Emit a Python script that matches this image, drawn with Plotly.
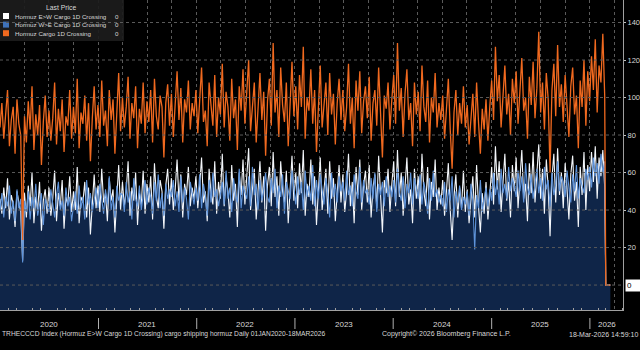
import pandas as pd
import plotly.graph_objects as go

# ---------------- data (weekly readings, then the drop to 0) ----------------
orange_vals = [
    84, 97, 78, 92, 104, 74, 88, 95, 70, 99, 86, 80, 24,
    90, 76, 98, 83, 106, 72, 91, 80, 96, 64, 87, 101, 79,
    93, 77, 89, 108, 75, 94, 82, 99, 71, 90, 85, 104, 78,
    95, 81, 110, 73, 92, 86, 101, 77, 97, 66, 89, 106, 83,
    96, 79, 109, 85, 93, 74, 104, 88, 99, 70, 91, 113, 82,
    100, 84, 95, 111, 78, 97, 89, 106, 73, 94, 86, 108, 81,
    98, 87, 104, 76, 110, 90, 83, 101, 95, 68, 97, 107, 85,
    102, 79, 96, 114, 88, 105, 76, 99, 92, 109, 83, 97, 90,
    104, 81, 98, 116, 87, 93, 74, 108, 96, 85, 112, 79, 100,
    91, 118, 84, 103, 95, 77, 110, 89, 99, 72, 106, 93, 115,
    86, 101, 120, 82, 97, 108, 76, 94, 113, 88, 103, 69, 98,
    110, 85, 129, 92, 104, 79, 116, 96, 87, 108, 74, 101, 119,
    90, 106, 83, 112, 95, 127, 78, 100, 93, 115, 86, 104, 71,
    99, 117, 84, 96, 108, 80, 113, 91, 102, 75, 97, 110, 88,
    104, 82, 95, 118, 86, 100, 73, 109, 93, 114, 81, 98, 106,
    89, 111, 77, 97, 104, 85, 116, 92, 68, 101, 94, 108, 83,
    99, 112, 86, 129, 93, 105, 79, 102, 115, 88, 97, 74, 108,
    91, 103, 82, 117, 95, 87, 109, 76, 100, 92, 113, 84, 97,
    88, 101, 78, 95, 110, 83, 62, 92, 104, 80, 97, 86, 106,
    84, 96, 75, 90, 102, 79, 108, 87, 70, 94, 83, 99, 77,
    95, 109, 88, 127, 98, 112, 84, 104, 117, 91, 102, 80, 110,
    97, 114, 86, 106, 121, 93, 100, 78, 111, 96, 119, 89, 105,
    135, 92, 108, 83, 113, 99, 60, 104, 118, 90, 128, 95, 107,
    87, 112, 98, 79, 106, 116, 91, 101, 73, 109, 95, 120, 85,
    114, 98, 122, 104, 131, 92, 117, 108, 134, 101,
    0, 0,
]

white_vals = [
    46, 38, 52, 41, 57, 35, 48, 43, 31, 50, 44, 39, 13,
    49, 36, 53, 42, 60, 33, 47, 40, 55, 29, 45, 51, 38,
    52, 37, 46, 61, 34, 49, 42, 56, 30, 47, 43, 58, 39,
    50, 40, 63, 33, 47, 44, 55, 36, 52, 27, 46, 59, 41,
    53, 39, 62, 44, 49, 34, 57, 45, 51, 28, 48, 64, 40,
    55, 42, 50, 66, 37, 52, 45, 60, 32, 49, 43, 61, 38,
    54, 44, 58, 35, 65, 47, 41, 56, 50, 30, 53, 62, 43,
    57, 40, 51, 67, 45, 59, 36, 54, 48, 63, 42, 52, 46,
    58, 41, 53, 68, 44, 50, 34, 62, 49, 43, 66, 38, 55,
    46, 70, 42, 57, 50, 36, 64, 45, 54, 31, 60, 48, 67,
    43, 56, 73, 40, 52, 62, 35, 49, 66, 44, 58, 29, 53,
    63, 42, 71, 47, 58, 37, 66, 50, 44, 61, 33, 55, 69,
    45, 60, 41, 65, 49, 72, 37, 54, 47, 67, 43, 58, 32,
    53, 68, 40, 51, 62, 38, 66, 46, 57, 34, 52, 64, 44,
    59, 39, 50, 70, 42, 55, 33, 63, 48, 67, 40, 53, 61,
    44, 64, 36, 52, 59, 41, 69, 47, 28, 56, 49, 62, 39,
    54, 66, 42, 72, 47, 60, 37, 56, 68, 43, 51, 33, 62,
    46, 58, 39, 70, 50, 42, 63, 35, 55, 47, 67, 40, 52,
    43, 56, 37, 50, 65, 40, 24, 47, 59, 36, 52, 41, 61,
    39, 51, 33, 46, 58, 36, 64, 42, 28, 49, 38, 55, 35,
    48, 63, 43, 74, 51, 66, 39, 57, 70, 45, 55, 36, 64,
    50, 68, 41, 59, 72, 46, 54, 34, 65, 49, 71, 44, 58,
    75, 46, 62, 38, 67, 52, 26, 57, 70, 44, 73, 48, 60,
    41, 65, 51, 35, 59, 69, 45, 55, 31, 63, 48, 71, 40,
    64, 50, 71, 55, 74, 46, 68, 58, 72, 52,
    0, 0,
]

blue_vals = [
    40, 49, 36, 47, 42, 53, 38, 45, 34, 51, 41, 46, 12,
    45, 39, 50, 35, 47, 41, 54, 37, 44, 49, 32, 46, 42,
    39, 51, 43, 36, 48, 55, 40, 45, 37, 52, 42, 47, 34,
    44, 50, 38, 53, 41, 47, 35, 56, 43, 49, 39, 45, 52,
    41, 54, 46, 38, 51, 43, 58, 40, 47, 36, 53, 45, 49,
    48, 39, 55, 44, 50, 35, 57, 46, 42, 53, 40, 48, 56,
    43, 52, 47, 38, 55, 45, 59, 41, 49, 37, 54, 46, 51,
    47, 56, 42, 50, 39, 58, 44, 52, 46, 35, 55, 49, 43,
    52, 45, 59, 41, 54, 48, 37, 56, 44, 60, 47, 51, 42,
    49, 55, 43, 61, 46, 52, 39, 57, 48, 44, 62, 41, 53,
    50, 46, 58, 42, 63, 48, 54, 40, 56, 45, 51, 60, 47,
    44, 57, 49, 62, 41, 53, 47, 59, 38, 55, 50, 46, 61,
    52, 43, 58, 48, 55, 40, 61, 47, 53, 45, 64, 42, 56,
    46, 59, 51, 43, 57, 49, 36, 60, 47, 54, 44, 58, 50,
    55, 45, 61, 48, 53, 42, 59, 50, 46, 63, 44, 56, 49,
    51, 43, 57, 46, 60, 39, 54, 48, 55, 42, 58, 47, 53,
    47, 56, 44, 62, 50, 45, 58, 41, 54, 49, 60, 43, 57,
    52, 46, 59, 43, 55, 49, 38, 57, 45, 61, 47, 51, 44,
    48, 42, 55, 39, 51, 45, 58, 36, 50, 44, 53, 40, 47,
    43, 50, 37, 54, 45, 19, 48, 41, 56, 39, 46, 52, 42,
    51, 45, 60, 48, 56, 43, 62, 49, 54, 46, 63, 50, 57,
    53, 47, 61, 50, 58, 44, 65, 52, 48, 59, 46, 55, 62,
    49, 57, 45, 63, 51, 56, 42, 60, 48, 54, 66, 50, 58,
    55, 47, 61, 52, 44, 59, 50, 64, 46, 57, 53, 49, 62,
    56, 63, 52, 68, 58, 65, 54, 70, 60, 66,
    0, 0,
]

weekly_dates = list(pd.date_range("2020-01-01", periods=322, freq="7D"))
final_dates = [pd.Timestamp("2026-03-01"), pd.Timestamp("2026-03-18")]
dates = weekly_dates + final_dates

series_names = ["Hormuz E>W Cargo 1D Crossing",
                "Hormuz W>E Cargo 1D Crossing",
                "Hormuz Cargo 1D Crossing"]
last_values = ["0", "0", "0"]
year_labels = ["2020", "2021", "2022", "2023", "2024", "2025", "2026"]
y_ticks = [20, 40, 60, 80, 100, 120, 140]

assert len(orange_vals) == len(white_vals) == len(blue_vals) == len(dates)

# ---------------- styling ----------------
ORANGE = "#f0691f"
WHITE = "#f4f7fb"
BLUE_LINE = "#5e93da"
NAVY = "#0f2548"
GRID = "#5a5a5a"
TXT = "#d8d8d8"
FONT = "Liberation Sans, Arial, sans-serif"

Y_MIN, Y_MAX = -13.3, 152
X_MIN, X_MAX = "2020-01-01", "2026-05-04"

W, H = 640, 350
ML, MR, MT, MB = 0, 17, 0, 40
PW, PH = W - ML - MR, H - MT - MB


def px(x):
    return x / PW


def py(y):
    return 1 - y / PH


fig = go.Figure()

# baseline (bottom of plot) so the W>E area fills down to the axis
fig.add_trace(go.Scatter(x=dates, y=[Y_MIN] * len(dates), mode="lines",
                         line=dict(width=0), hoverinfo="skip", showlegend=False))
# W>E area fill
fig.add_trace(go.Scatter(x=dates, y=blue_vals, mode="lines",
                         line=dict(width=0, color=NAVY), fill="tonexty",
                         fillcolor=NAVY, hoverinfo="skip", showlegend=False))
# E>W line
fig.add_trace(go.Scatter(x=dates, y=white_vals, mode="lines", name=series_names[0],
                         line=dict(color=WHITE, width=1.1), showlegend=False))
# W>E line (top edge of area)
fig.add_trace(go.Scatter(x=dates, y=blue_vals, mode="lines", name=series_names[1],
                         line=dict(color=BLUE_LINE, width=1.1), showlegend=False))
# total
fig.add_trace(go.Scatter(x=dates, y=orange_vals, mode="lines", name=series_names[2],
                         line=dict(color=ORANGE, width=1.3), showlegend=False))

shapes = []
annotations = []

# year separators and labels
for i, yl in enumerate(year_labels):
    if i > 0:
        shapes.append(dict(type="line", xref="x", yref="paper",
                           x0=f"{yl}-01-01", x1=f"{yl}-01-01",
                           y0=py(318), y1=py(329),
                           line=dict(color="#b0b0b0", width=1)))
    xpos = f"{yl}-07-01" if yl != "2026" else "2026-03-05"
    annotations.append(dict(x=xpos, y=py(324), xref="x", yref="paper", text=yl,
                            showarrow=False, font=dict(size=8, color=TXT, family=FONT),
                            xanchor="center", yanchor="middle"))

# footer texts
FOOT = dict(size=6.7, color=TXT, family=FONT)
annotations.append(dict(x=px(0), y=py(334), xref="paper", yref="paper",
                        text="TRHECCCD Index (Hormuz E>W Cargo 1D Crossing) cargo shipping hormuz Daily 01JAN2020-18MAR2026",
                        showarrow=False, xanchor="left", yanchor="middle", font=FOOT))
annotations.append(dict(x=px(446), y=py(334), xref="paper", yref="paper",
                        text="Copyright\u00a9 2026 Bloomberg Finance L.P.",
                        showarrow=False, xanchor="center", yanchor="middle",
                        font=dict(size=7, color=TXT, family=FONT)))
annotations.append(dict(x=px(640), y=py(334), xref="paper", yref="paper",
                        text="18-Mar-2026 14:59:10",
                        showarrow=False, xanchor="right", yanchor="middle",
                        font=dict(size=7, color=TXT, family=FONT)))

# last price tag on the right axis
annotations.append(dict(x=px(625), y=0, xref="paper", yref="y", text="0",
                        showarrow=False, xanchor="left", yanchor="middle",
                        bgcolor="#ffffff", font=dict(size=8, color="#000", family=FONT),
                        borderpad=1, width=12, align="left"))

# manual legend
LEG = dict(size=6.2, color=TXT, family=FONT)
shapes.append(dict(type="rect", xref="paper", yref="paper",
                   x0=px(0), x1=px(124), y0=py(41), y1=py(0),
                   fillcolor="rgba(28,28,28,0.92)", line=dict(width=0), layer="above"))
annotations.append(dict(x=px(61), y=py(7), xref="paper", yref="paper", text="Last Price",
                        showarrow=False, xanchor="center", yanchor="middle",
                        font=dict(size=6.8, color=TXT, family=FONT)))
legend_colors = ["#ffffff", "#3f72b8", ORANGE]
for i, (nm, col, lv) in enumerate(zip(series_names, legend_colors, last_values)):
    yc = 16 + i * 8.6
    shapes.append(dict(type="rect", xref="paper", yref="paper",
                       x0=px(3), x1=px(9), y0=py(yc + 3), y1=py(yc - 3),
                       fillcolor=col, line=dict(width=0), layer="above"))
    annotations.append(dict(x=px(13), y=py(yc), xref="paper", yref="paper", text=nm,
                            showarrow=False, xanchor="left", yanchor="middle", font=LEG))
    annotations.append(dict(x=px(121), y=py(yc), xref="paper", yref="paper", text=lv,
                            showarrow=False, xanchor="right", yanchor="middle", font=LEG))

fig.update_layout(
    width=W, height=H,
    margin=dict(l=ML, r=MR, t=MT, b=MB, pad=0),
    paper_bgcolor="#000000", plot_bgcolor="#000000",
    showlegend=False,
    shapes=shapes, annotations=annotations,
    xaxis=dict(range=[X_MIN, X_MAX], tick0="2020-01-01", dtick="M3",
               showgrid=True, gridcolor=GRID, griddash="dot", gridwidth=1,
               showticklabels=False, ticks="", zeroline=False,
               showline=True, linecolor="#a0a0a0", linewidth=1,
               minor=dict(dtick="M1", ticks="inside", ticklen=2, tickcolor="#a0a0a0",
                          showgrid=False),
               automargin=False),
    yaxis=dict(range=[Y_MIN, Y_MAX], side="right", tickvals=y_ticks,
               showgrid=False, zeroline=False,
               ticks="outside", ticklen=2, tickcolor="#c0c0c0",
               tickfont=dict(size=7.5, color=TXT, family=FONT),
               showline=True, linecolor="#a0a0a0", linewidth=1,
               automargin=False),
)

# horizontal dotted grid (every 20, including 0)
for gv in [0] + y_ticks:
    fig.add_shape(type="line", xref="paper", yref="y", x0=0, x1=1, y0=gv, y1=gv,
                  line=dict(color=GRID, width=1, dash="dot"), layer="above")

fig.write_html("out.html")
